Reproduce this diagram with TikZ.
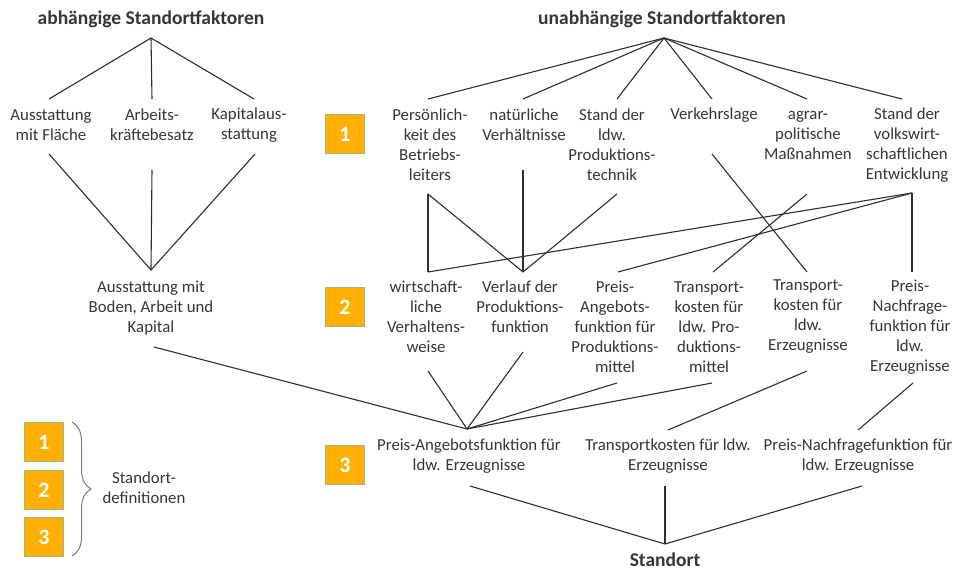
\documentclass[tikz,border=0pt]{standalone}
\usepackage{fontspec}
\setmainfont{Carlito}
\usetikzlibrary{decorations.pathreplacing}
\definecolor{txt}{HTML}{363636}
\definecolor{ln}{HTML}{2F2F2F}
\definecolor{amber}{HTML}{FFB000}
\definecolor{boxedge}{HTML}{9DB486}
\definecolor{bracec}{HTML}{7A7A7A}
\begin{document}
\begin{tikzpicture}[x=1pt,y=-1pt,
  lbl/.style={text=txt, align=center, font=\fontsize{16.8}{20}\selectfont, inner sep=0pt},
  ttl/.style={text=txt, font=\fontsize{19.5}{22}\selectfont\bfseries, inner sep=0pt},
  conn/.style={draw=ln, line width=1.1pt},
  numbox/.style={fill=amber, draw=boxedge, line width=0.9pt, minimum width=39pt, minimum height=39pt, text=white, font=\fontsize{22}{24}\selectfont\bfseries, inner sep=0pt}]
\useasboundingbox (0,0) rectangle (955,572);
\fill[white] (0,0) rectangle (955,572);

% titles
\node[ttl] (tdep) at (151,19) {abhängige Standortfaktoren};
\node[ttl] (tind) at (662,19) {unabhängige Standortfaktoren};
\node[ttl] (stand) at (665,560) {Standort};

% left block
\node[lbl] (ausfl) at (51,125) {Ausstattung\\mit Fläche};
\node[lbl] (arbeit) at (152,125) {Arbeits-\\kräftebesatz};
\node[lbl] (kapaus) at (249,125) {Kapitalaus-\\stattung};
\node[lbl] (boden) at (151,308) {Ausstattung mit\\Boden, Arbeit und\\Kapital};

% row 1 right
\node[lbl] (pers) at (430,145) {Persönlich-\\keit des\\Betriebs-\\leiters};
\node[lbl] (nat) at (524,125) {natürliche\\Verhältnisse};
\node[lbl] (tech) at (612,145) {Stand der\\ldw.\\Produktions-\\technik};
\node[lbl] (verk) at (714,115) {Verkehrslage};
\node[lbl] (agrar) at (808,135) {agrar-\\politische\\Maßnahmen};
\node[lbl] (volk) at (907,145) {Stand der\\volkswirt-\\schaftlichen\\Entwicklung};

% row 2
\node[lbl] (wirt) at (426,317) {wirtschaft-\\liche\\Verhaltens-\\weise};
\node[lbl] (verl) at (520,307) {Verlauf der\\Produktions-\\funktion};
\node[lbl] (pang) at (615,327) {Preis-\\Angebots-\\funktion für\\Produktions-\\mittel};
\node[lbl] (tpm) at (709,327) {Transport-\\kosten für\\ldw. Pro-\\duktions-\\mittel};
\node[lbl] (tez) at (808,317) {Transport-\\kosten für\\ldw.\\Erzeugnisse};
\node[lbl] (pnf) at (910,327) {Preis-\\Nachfrage-\\funktion für\\ldw.\\Erzeugnisse};

% row 3
\node[lbl] (paf) at (469,456) {Preis-Angebotsfunktion für\\ldw. Erzeugnisse};
\node[lbl] (tkf) at (668,456) {Transportkosten für ldw.\\Erzeugnisse};
\node[lbl] (nff) at (858,456) {Preis-Nachfragefunktion für\\ldw. Erzeugnisse};

% number boxes
\node[numbox] (n1) at (345,134) {1};
\node[numbox] (n2) at (345,307) {2};
\node[numbox] (n3) at (345,465) {3};
\node[numbox] (l1) at (44,442) {1};
\node[numbox] (l2) at (44,490) {2};
\node[numbox] (l3) at (44,537) {3};
\node[lbl] (sdef) at (144,488) {Standort-\\definitionen};

% connection points
\coordinate (tdep-b) at (151,38);
\coordinate (tind-b) at (664,38);
\coordinate (ausfl-t) at (49,99);   \coordinate (ausfl-b) at (49,154);
\coordinate (arbeit-t) at (152,99); \coordinate (arbeit-b) at (152,170);
\coordinate (kapaus-t) at (254,99); \coordinate (kapaus-b) at (255,154);
\coordinate (boden-t) at (151,270); \coordinate (boden-b) at (154,347);

\coordinate (pers-t) at (428,99);  \coordinate (pers-b) at (428,194);
\coordinate (nat-t) at (523,99);   \coordinate (nat-b) at (523,170);
\coordinate (tech-t) at (617,99);  \coordinate (tech-b) at (617,194);
\coordinate (verk-t) at (712,99);  \coordinate (verk-b) at (712,154);
\coordinate (agrar-t) at (807,99); \coordinate (agrar-b) at (807,194);
\coordinate (volk-t) at (902,99);  \coordinate (volk-b) at (912,193);

\coordinate (wirt-t) at (428,272); \coordinate (wirt-b) at (428,371);
\coordinate (verl-t) at (523,272); \coordinate (verl-b) at (523,352);
\coordinate (pang-t) at (618,272); \coordinate (pang-b) at (617,383);
\coordinate (tpm-t) at (713,272);  \coordinate (tpm-b) at (712,383);
\coordinate (tez-t) at (807,272);  \coordinate (tez-b) at (807,371);
\coordinate (pnf-t) at (912,272);  \coordinate (pnf-b) at (913,383);

\coordinate (paf-t) at (467,429);  \coordinate (paf-b) at (470,486);
\coordinate (tkf-t) at (668,430);  \coordinate (tkf-b) at (665,486);
\coordinate (nff-t) at (858,430);  \coordinate (nff-b) at (862,486);
\coordinate (stand-t) at (665,544);

% left tree
\draw[conn] (ausfl-t) -- (tdep-b) -- (kapaus-t);
\draw[conn] (tdep-b) -- (arbeit-t);
\draw[conn] (ausfl-b) -- (boden-t) -- (kapaus-b);
\draw[conn] (arbeit-b) -- (boden-t);

% right tree top
\foreach \n in {pers,nat,tech,verk,agrar,volk}
  \draw[conn] (tind-b) -- (\n-t);

% row 1 -> row 2
\draw[conn] (pers-b) -- (wirt-t);
\draw[conn] (pers-b) -- (verl-t);
\draw[conn] (nat-b) -- (verl-t);
\draw[conn] (tech-b) -- (verl-t);
\draw[conn] (volk-b) -- (wirt-t);
\draw[conn] (volk-b) -- (pang-t);
\draw[conn] (agrar-b) -- (tpm-t);
\draw[conn] (verk-b) -- (tez-t);
\draw[conn] (volk-b) -- (pnf-t);

% row 2 -> row 3
\draw[conn] (boden-b) -- (paf-t);
\draw[conn] (wirt-b) -- (paf-t);
\draw[conn] (verl-b) -- (paf-t);
\draw[conn] (pang-b) -- (paf-t);
\draw[conn] (tpm-b) -- (paf-t);
\draw[conn] (tez-b) -- (tkf-t);
\draw[conn] (pnf-b) -- (nff-t);

% row 3 -> Standort
\draw[conn] (paf-b) -- (stand-t);
\draw[conn] (tkf-b) -- (stand-t);
\draw[conn] (nff-b) -- (stand-t);

% brace
\draw[bracec, line width=1pt, decorate, decoration={brace, amplitude=19pt}] (72,422) -- (72,556);
\end{tikzpicture}
\end{document}
